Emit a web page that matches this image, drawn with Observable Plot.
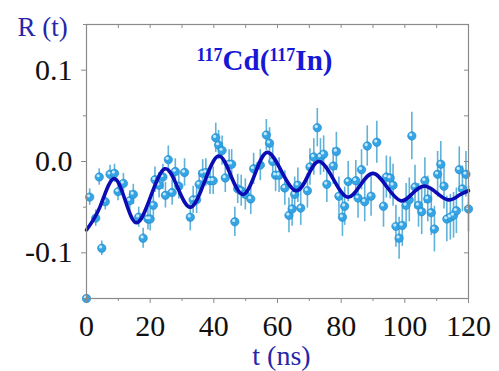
<!DOCTYPE html>
<html><head><meta charset="utf-8">
<script src="https://cdn.jsdelivr.net/npm/d3@7"></script>
<script src="https://cdn.jsdelivr.net/npm/@observablehq/plot@0.6"></script>
<style>
body{margin:0;background:#fff}
#chart svg{display:block}
#chart svg text{font-family:'Liberation Serif','Times New Roman',serif;font-variant-numeric:normal}
</style>
</head><body><div id="chart"></div>
<script>
// measured points: time (ns), R(t), error
const time = [0.0,1.0,2.9,4.0,4.8,5.9,7.4,8.8,9.9,11.6,13.6,14.7,16.4,17.8,19.3,20.0,21.0,21.5,22.8,24.0,24.8,25.7,26.9,27.9,29.0,30.8,32.6,33.5,34.6,35.4,36.5,37.5,38.8,39.8,40.6,41.5,42.6,43.6,44.8,45.6,46.6,47.5,48.6,49.9,51.6,52.5,54.6,56.5,57.5,58.5,59.4,60.5,62.3,63.6,64.6,65.4,66.4,67.3,69.4,70.2,71.4,72.5,73.5,74.5,75.5,77.5,78.5,79.3,80.4,81.1,82.2,84.6,85.3,86.4,87.4,88.2,89.4,91.2,93.3,94.2,95.4,96.3,97.2,98.2,99.2,100.4,101.4,102.2,103.2,104.3,105.3,106.3,107.2,108.3,109.3,110.3,111.3,112.3,113.2,114.3,115.3,116.2,117.1,118.1,119.2,120.0];
const rt = [-0.150,-0.039,-0.062,-0.017,-0.095,-0.044,-0.014,-0.013,-0.033,-0.024,-0.043,-0.036,-0.061,-0.084,-0.063,-0.063,-0.048,-0.020,-0.026,-0.017,-0.037,0.002,-0.034,-0.011,-0.027,-0.012,-0.061,-0.042,-0.042,-0.025,-0.013,-0.012,-0.021,-0.021,0.026,0.018,0.012,-0.018,-0.003,-0.003,-0.066,-0.030,-0.032,-0.036,-0.041,-0.008,-0.004,0.029,0.020,0.000,-0.015,-0.015,-0.029,-0.059,-0.052,-0.036,-0.026,-0.051,-0.032,-0.006,0.005,0.037,0.005,0.008,-0.025,-0.005,0.011,-0.038,-0.061,-0.049,-0.022,-0.021,-0.040,-0.009,-0.044,0.017,-0.038,0.021,-0.049,-0.017,-0.018,-0.026,-0.071,-0.084,-0.070,-0.048,-0.042,0.028,-0.028,-0.048,-0.055,-0.021,-0.041,-0.056,-0.074,-0.014,-0.003,-0.027,-0.063,-0.061,-0.059,-0.054,-0.009,-0.030,-0.014,-0.052];
const err = [0.004,0.009,0.009,0.009,0.008,0.009,0.010,0.010,0.010,0.011,0.011,0.011,0.011,0.011,0.012,0.013,0.013,0.014,0.014,0.014,0.014,0.015,0.014,0.014,0.014,0.015,0.015,0.015,0.015,0.015,0.015,0.015,0.015,0.015,0.016,0.016,0.016,0.016,0.016,0.016,0.016,0.016,0.017,0.017,0.017,0.017,0.017,0.017,0.017,0.018,0.018,0.019,0.019,0.019,0.019,0.019,0.019,0.019,0.019,0.020,0.020,0.021,0.020,0.020,0.020,0.020,0.021,0.021,0.021,0.021,0.022,0.022,0.022,0.022,0.022,0.022,0.022,0.023,0.023,0.023,0.023,0.023,0.023,0.023,0.023,0.024,0.024,0.026,0.024,0.024,0.025,0.025,0.025,0.025,0.025,0.025,0.025,0.025,0.025,0.025,0.025,0.025,0.025,0.025,0.025,0.025];
// fitted curve read at its turning points and mid-crossings
const fitT = [0,4.2,8.4,12.2,15.9,20.2,24.6,28.7,32.8,37.1,41.4,45.3,49.2,53.0,56.8,61.3,65.8,69.5,73.1,77.5,81.9,86.0,90.1,94.4,98.7,102.4,106.1,109.9,113.7,117.0,120];
const fitR = [-0.075,-0.050,-0.019,-0.043,-0.067,-0.038,-0.008,-0.029,-0.050,-0.022,0.006,-0.015,-0.036,-0.013,0.010,-0.011,-0.032,-0.016,0.000,-0.019,-0.039,-0.026,-0.013,-0.028,-0.043,-0.035,-0.027,-0.034,-0.042,-0.037,-0.032];
const xTicks = [0,20,40,60,80,100,120];
const xMinor = [10,30,50,70,90,110];
const yTicks = [-0.1,0.0,0.1];
const yMinor = [-0.15,-0.05,0.05,0.15];
const titleParts = [["117",true],["Cd(",false],["117",true],["In)",false]];

const pts = time.map((t,i)=>({t, r: rt[i], e: err[i]}));
const fit = fitT.map((t,i)=>({t, r: fitR[i]}));
const serif = "'Liberation Serif','Times New Roman',serif";
const frameGray = "#8a8a8a";
const fmt = d => d.toFixed(1);

const plot = Plot.plot({
  width: 499, height: 371,
  marginLeft: 86, marginRight: 31, marginTop: 24, marginBottom: 73,
  style: {fontFamily: serif, background: "white", overflow: "visible"},
  x: {domain: [0,120]},
  y: {domain: [-0.15,0.15]},
  marks: [
    Plot.ruleX(pts, {x:"t", y1: d=>d.r-d.e, y2: d=>d.r+d.e, stroke:"#5fb2da", strokeWidth:1.6}),
    Plot.dot(pts, {x:"t", y:"r", r:4.2, fill:"#34a4e4", stroke:"#1d86c6", strokeWidth:0.6}),
    Plot.dot(pts, {x:"t", y:"r", r:1.6, fill:"#c6e9ff", dx:-1.1, dy:-1.3}),
    Plot.line(fit, {x:"t", y:"r", curve:"natural", stroke:"#0c0cb4", strokeWidth:3.6}),
    Plot.frame({stroke: frameGray, strokeWidth: 1.2}),
    Plot.axisX({ticks: xTicks, tickSize: 5, tickPadding: 11, tickFormat: d=>String(d), fontSize: 30, fontFamily: serif, fill:"#111", stroke: frameGray, label: null}),
    Plot.axisX({ticks: xMinor, tickSize: 3, tickFormat: ()=>"", stroke: frameGray, label: null}),
    Plot.axisX({anchor:"top", ticks: xTicks.concat(xMinor), tickSize: -3, tickFormat: ()=>"", stroke: frameGray, label: null}),
    Plot.axisY({ticks: yTicks, tickSize: 5, tickPadding: 9, tickFormat: fmt, fontSize: 30, fontFamily: serif, fill:"#111", stroke: frameGray, label: null}),
    Plot.axisY({ticks: yMinor, tickSize: 3, tickFormat: ()=>"", stroke: frameGray, label: null}),
    Plot.axisY({anchor:"right", ticks: yTicks.concat(yMinor), tickSize: -5, tickFormat: ()=>"", stroke: frameGray, label: null}),
    Plot.text(["R (t)"], {frameAnchor:"top-left", dx:-69, dy:11, textAnchor:"start", lineAnchor:"bottom", fontSize:27, fill:"#2626a8"}),
    Plot.text(["t (ns)"], {frameAnchor:"bottom", dx:4, dy:66, lineAnchor:"bottom", fontSize:28, fill:"#2626a8"}),
    Plot.text(["TITLE"], {frameAnchor:"top", dx:-13, dy:46, lineAnchor:"bottom", fontSize:29, fontWeight:"bold", fill:"#1717d6", className:"title-mark"})
  ]
});

// turn the title into superscripted isotope notation
d3.select(plot).selectAll("g.title-mark text").each(function(){
  const t = d3.select(this);
  t.text(null);
  titleParts.forEach(([s,sup],i)=>{
    const ts = t.append("tspan").text(s);
    if (sup) ts.attr("font-size", 18).attr("dy", "-0.55em");
    else if (i>0 && titleParts[i-1][1]) ts.attr("dy", "0.34em");
  });
});
document.getElementById("chart").append(plot);
</script>
</body></html>
